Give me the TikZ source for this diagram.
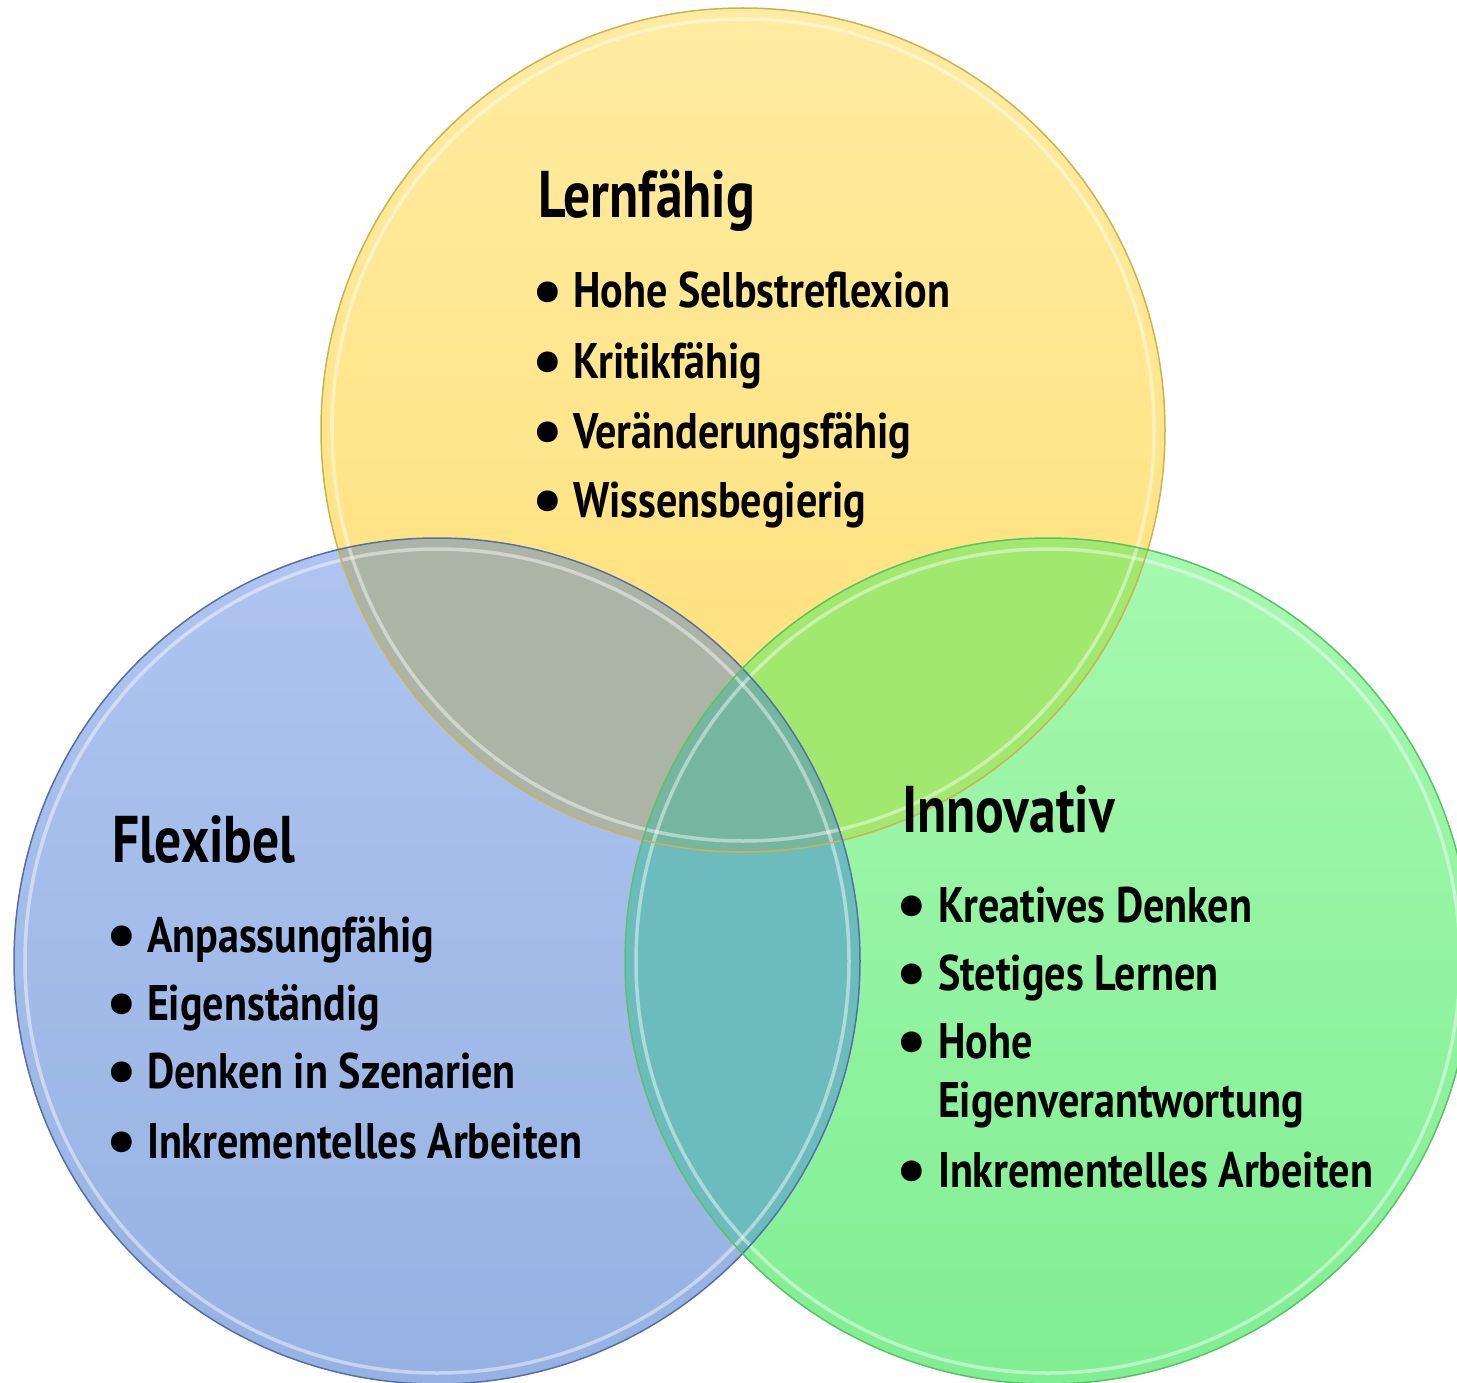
\documentclass[tikz,border=0pt]{standalone}
\usepackage{fontspec}
\setmainfont{PT Sans}
\usepackage{graphicx}
\definecolor{ytop}{RGB}{255,236,162}
\definecolor{ybot}{RGB}{255,223,118}
\definecolor{btop}{RGB}{175,196,240}
\definecolor{bbot}{RGB}{150,178,226}
\definecolor{gtop}{RGB}{165,249,175}
\definecolor{gbot}{RGB}{128,238,146}
\definecolor{ybcol}{RGB}{172,180,166}
\definecolor{ygcol}{RGB}{160,232,110}
\definecolor{bgcol}{RGB}{108,188,190}
\definecolor{ctrcol}{RGB}{118,182,160}
\definecolor{yedge}{RGB}{205,178,80}
\definecolor{bedge}{RGB}{85,112,168}
\definecolor{gedge}{RGB}{90,195,100}
\newlength\calw
\newlength\calt
\newcommand\bodyfont{\fontsize{50}{54}\selectfont\bfseries}
\newcommand\titlefont{\fontsize{66}{70}\selectfont\bfseries}
\newcommand\bulfont{\fontsize{68}{70}\selectfont\bfseries}
\newcommand\T[1]{\scalebox{\sx}[1]{\bodyfont #1}}
\newcommand\TT[1]{\scalebox{\sxt}[1]{\titlefont #1}}
\tikzset{
  txt/.style={anchor=base west,inner sep=0pt,outer sep=0pt,text=black},
  bul/.style={anchor=base,inner sep=0pt,outer sep=0pt,text=black,font=\bulfont},
  ring/.style={draw=white,draw opacity=0.45,line width=3.5pt},
}
\begin{document}
\settowidth\calw{\bodyfont Inkrementelles Arbeiten}%
\pgfmathsetmacro\sx{435/\calw}%
\settowidth\calt{\titlefont Lernfähig}%
\pgfmathsetmacro\sxt{217/\calt}%
\begin{tikzpicture}[x=1pt,y=-1pt]
\useasboundingbox (0,0) rectangle (1457,1383);
\coordinate (Yc) at (743,430);
\coordinate (Bc) at (437,961);
\coordinate (Gc) at (1048,961);
% base circles
\fill[top color=ytop,bottom color=ybot] (Yc) circle[radius=422pt];
\fill[top color=btop,bottom color=bbot] (Bc) circle[radius=423pt];
\fill[top color=gtop,bottom color=gbot] (Gc) circle[radius=423pt];
% overlaps
\begin{scope}\clip (Yc) circle[radius=422pt]; \fill[ybcol] (Bc) circle[radius=423pt];\end{scope}
\begin{scope}\clip (Yc) circle[radius=422pt]; \fill[ygcol] (Gc) circle[radius=423pt];\end{scope}
\begin{scope}\clip (Bc) circle[radius=423pt]; \fill[bgcol] (Gc) circle[radius=423pt];\end{scope}
\begin{scope}\clip (Yc) circle[radius=422pt]; \clip (Bc) circle[radius=423pt]; \fill[ctrcol] (Gc) circle[radius=423pt];\end{scope}
% highlight rings
\draw[ring] (Yc) circle[radius=411pt];
\draw[ring] (Bc) circle[radius=412pt];
\draw[ring] (Gc) circle[radius=412pt];
% edges
\draw[yedge,line width=1.5pt] (Yc) circle[radius=422pt];
\draw[bedge,line width=1.5pt] (Bc) circle[radius=423pt];
\draw[gedge,line width=1.5pt] (Gc) circle[radius=423pt];
% Lernfaehig
\node[txt] (ytitle) at (538,218) {\TT{Lernfähig}};
\node[bul] (yb1) at (548,313) {•};
\node[txt] (y1) at (573,308) {\T{Hohe Selbstreflexion}};
\node[bul] (yb2) at (548,383) {•};
\node[txt] (y2) at (573,378) {\T{Kritikfähig}};
\node[bul] (yb3) at (548,453) {•};
\node[txt] (y3) at (573,448) {\T{Veränderungsfähig}};
\node[bul] (yb4) at (548,522) {•};
\node[txt] (y4) at (573,517) {\T{Wissensbegierig}};
% Flexibel
\node[txt] (btitle) at (112,862) {\TT{Flexibel}};
\node[bul] (bb1) at (122,957) {•};
\node[txt] (b1) at (147,952) {\T{Anpassungfähig}};
\node[bul] (bb2) at (122,1025) {•};
\node[txt] (b2) at (147,1020) {\T{Eigenständig}};
\node[bul] (bb3) at (122,1093) {•};
\node[txt] (b3) at (147,1088) {\T{Denken in Szenarien}};
\node[bul] (bb4) at (122,1163) {•};
\node[txt] (b4) at (147,1158) {\T{Inkrementelles Arbeiten}};
% Innovativ
\node[txt] (gtitle) at (902,832) {\TT{Innovativ}};
\node[bul] (gb1) at (912,927) {•};
\node[txt] (g1) at (938,922) {\T{Kreatives Denken}};
\node[bul] (gb2) at (912,995) {•};
\node[txt] (g2) at (938,990) {\T{Stetiges Lernen}};
\node[bul] (gb3) at (912,1063) {•};
\node[txt] (g3) at (938,1058) {\T{Hohe}};
\node[txt] (g3b) at (938,1117) {\T{Eigenverantwortung}};
\node[bul] (gb4) at (912,1192) {•};
\node[txt] (g4) at (938,1187) {\T{Inkrementelles Arbeiten}};
\end{tikzpicture}
\end{document}
